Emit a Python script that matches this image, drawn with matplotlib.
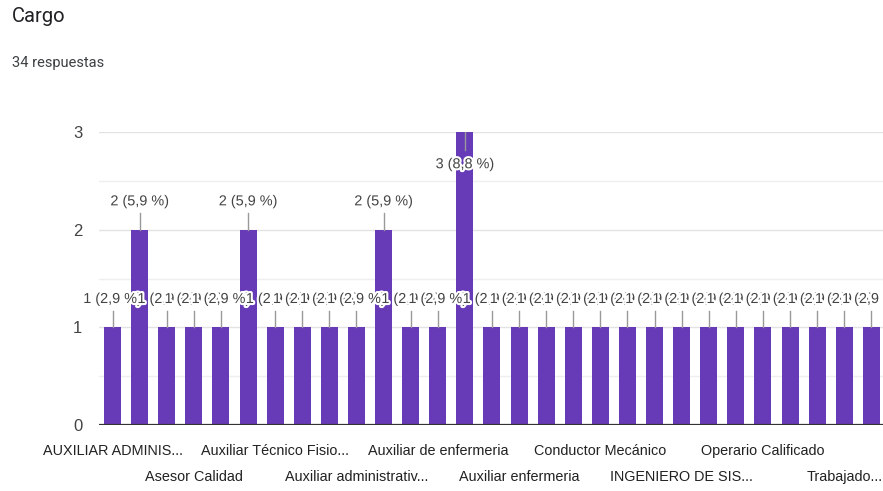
import matplotlib
matplotlib.use("Agg")
import matplotlib.pyplot as plt
import matplotlib.patheffects as pe
from matplotlib.transforms import blended_transform_factory
from matplotlib import font_manager

title = "Cargo"
subtitle = "34 respuestas"
total = 34

categories = [
    "AUXILIAR ADMINIS...", "AUXILIAR DE ENFE...", "Administrador", "Asesor Calidad",
    "Auxiliar Contable", "Auxiliar Enfermeria", "Auxiliar Técnico Fisio...", "Auxiliar Técnico en...",
    "Auxiliar admisiones", "Auxiliar administrativ...", "Auxiliar almacen", "Auxiliar cartera",
    "Auxiliar de enfermeria", "Auxiliar de enfermería", "Auxiliar de farmacia", "Auxiliar enfermeria",
    "Auxiliar facturacion", "Camillero", "Conductor Mecánico", "Coordinador",
    "Enfermera Jefe", "INGENIERO DE SIS...", "Jefe de enfermeria", "Medico General",
    "Operario Calificado", "Psicologa", "Secretaria", "Trabajado...", "Vigilante",
]
values = [1, 2, 1, 1, 1, 2, 1, 1, 1, 1, 2, 1, 1, 3, 1, 1, 1, 1, 1, 1,
          1, 1, 1, 1, 1, 1, 1, 1, 1]
yticks = [0, 1, 2, 3]

names = {f.name for f in font_manager.fontManager.ttflist}
narrow = "Liberation Sans Narrow" in names

W, H = 883, 491
fig = plt.figure(figsize=(W / 100, H / 100), dpi=100)
if narrow:
    chart_font = ["Liberation Sans Narrow", "DejaVu Sans"]
    lab_fs, cat_fs, tick_fs = 12.5, 12.5, 13
else:
    chart_font = ["Liberation Sans", "DejaVu Sans"]
    lab_fs, cat_fs, tick_fs = 10.4, 10.4, 12
head_font = ["Roboto", "DejaVu Sans"]

left_px, base_px, top_px = 99, 425, 132
unit_px = 27.1
n = len(categories)
ax = fig.add_axes([left_px / W, (H - base_px) / H, n * unit_px / W, (base_px - top_px) / H])

bar_color = "#673ab7"
x = list(range(n))
ax.bar(x, values, width=0.63, color=bar_color, zorder=2)
ax.set_xlim(-0.5, n - 0.5)
ax.set_ylim(0, 3)

for s in ax.spines.values():
    s.set_visible(False)
ax.axhline(0, color="#333333", lw=1.6, zorder=3)
for g in [0.5, 1.5, 2.5]:
    ax.axhline(g, color="#efefef", lw=1, zorder=0)
for g in [1, 2, 3]:
    ax.axhline(g, color="#e3e3e3", lw=1, zorder=0)

ax.set_xticks([])
ax.set_yticks(yticks)
ax.set_yticklabels([str(t) for t in yticks], family=chart_font, fontsize=tick_fs, color="#444444")
ax.tick_params(axis="y", length=0, pad=12)

vmax = max(values)
for i, v in enumerate(values):
    pct = f"{v / total * 100:.1f}".replace(".", ",")
    lab = f"{v} ({pct} %)"
    if v >= vmax:
        ly = v - 0.33
        ax.plot([i, i], [v, v - 0.18], color="#999999", lw=1, zorder=4)
    else:
        ly = v + 0.29
        ax.plot([i, i], [v, v + 0.17], color="#999999", lw=1, zorder=4)
    ax.text(i, ly, lab, ha="center", va="center", family=chart_font, fontsize=lab_fs,
            color="#444444", zorder=5 + i,
            path_effects=[pe.withStroke(linewidth=3, foreground="white")])

trans = blended_transform_factory(ax.transData, fig.transFigure)
for k, i in enumerate(range(0, n, 3)):
    ypx = 455 if k % 2 == 0 else 481
    ax.text(i, (H - ypx) / H, categories[i], transform=trans, ha="center", va="baseline",
            family=chart_font, fontsize=cat_fs, color="#222222", clip_on=False)

fig.text(12 / W, (H - 22.5) / H, title, family=head_font, fontsize=14.5, color="#202124", va="baseline")
fig.text(12 / W, (H - 67) / H, subtitle, family=head_font, fontsize=10.5, color="#3c4043", va="baseline")

fig.savefig("out.png", dpi=100, facecolor="white")
